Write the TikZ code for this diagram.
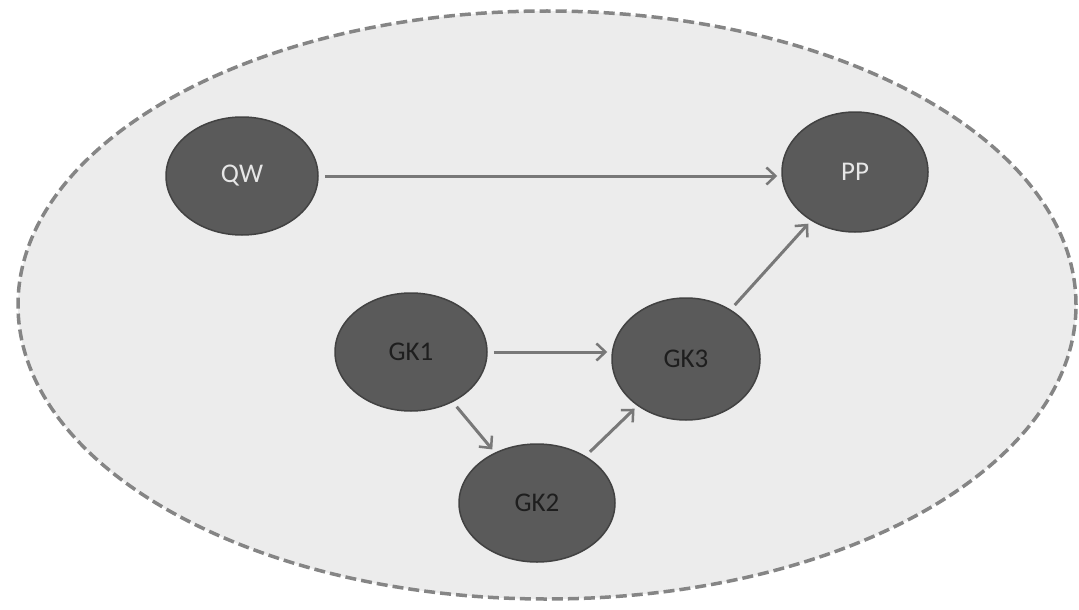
\documentclass[tikz,border=0pt]{standalone}
\usepackage{fontspec}
\setmainfont{Carlito}
\usetikzlibrary{shapes.geometric,arrows.meta}
\definecolor{bgfill}{HTML}{ECECEC}
\definecolor{dashgray}{HTML}{858585}
\definecolor{nodefill}{HTML}{5A5A5A}
\definecolor{nodeedge}{HTML}{424242}
\definecolor{arrowgray}{HTML}{787878}
\definecolor{lighttext}{HTML}{E6E6E6}
\definecolor{darktext}{HTML}{1E1E1E}
\tikzset{
  ball/.style={ellipse, fill=nodefill, draw=nodeedge, line width=1.5pt,
    minimum width=152pt, minimum height=118pt, inner sep=0pt,
    font=\fontsize{27}{30}\selectfont},
  lighttxt/.style={text=lighttext},
  darktxt/.style={text=darktext},
  link/.style={draw=arrowgray, line width=3pt,
    -{Straight Barb[length=9pt,width=17pt,line width=2.5pt]},
    shorten <=6pt, shorten >=4pt}
}
\begin{document}
\begin{tikzpicture}[x=1pt,y=-1pt]
\useasboundingbox (0,0) rectangle (1079,610);
\node[ellipse, draw=dashgray, fill=bgfill, dash pattern=on 11pt off 5pt,
  line width=3.5pt, minimum width=1058pt, minimum height=588pt] (frame) at (547,305) {};
\node[ball, lighttxt] (QW) at (242,176) {QW};
\node[ball, lighttxt, minimum width=146pt, minimum height=120pt] (PP) at (855,172) {PP};
\node[ball, darktxt] (GK1) at (411,352) {GK1};
\node[ball, darktxt, minimum width=148pt, minimum height=122pt] (GK3) at (686,359) {GK3};
\node[ball, darktxt, minimum width=156pt] (GK2) at (537,503) {GK2};
\draw[link] (QW.east) -- (PP.west |- QW.east);
\draw[link] (GK1.east) -- (GK3.west |- GK1.east);
\draw[link] (GK1) -- (GK2);
\draw[link] (GK2) -- (GK3);
\draw[link] (GK3) -- (PP);
\end{tikzpicture}
\end{document}
